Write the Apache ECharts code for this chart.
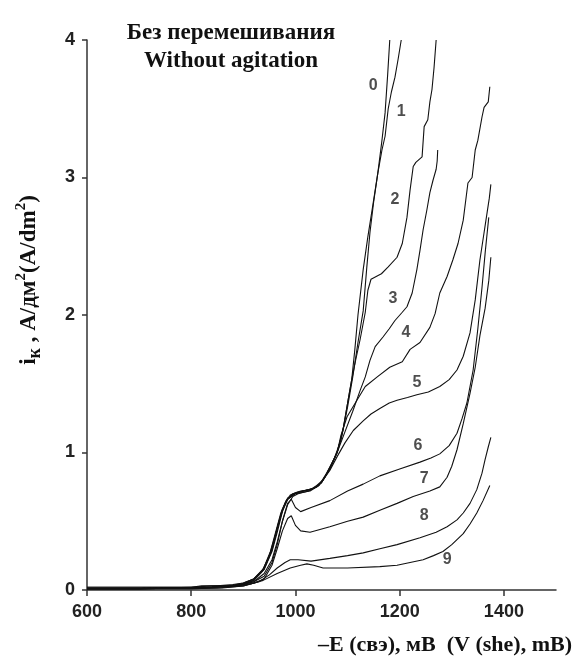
<!DOCTYPE html>
<html><head><meta charset="utf-8">
<script src="https://cdn.jsdelivr.net/npm/echarts@6/dist/echarts.min.js"></script>
<style>html,body{margin:0;padding:0;background:#fff}#c{width:575px;height:664px}</style>
</head><body><div id="c"></div>
<script>
// Potential E (mV, vs SHE, negative sign) and cathodic current density (A/dm2)
const xTicks = [600, 800, 1000, 1200, 1400];
const yTicks = [0, 1, 2, 3, 4];
const curveNames = ['0','1','2','3','4','5','6','7','8','9'];

const curve0 = [[600,0.02],[700,0.02],[800,0.02],[820,0.03],[850,0.03],[880,0.04],[900,0.05],[920,0.08],[935,0.13],[950,0.25],[960,0.38],[970,0.52],[980,0.63],[990,0.69],[1003,0.71],[1028,0.73],[1041,0.75],[1053,0.8],[1066,0.89],[1080,1.0],[1091,1.16],[1101,1.38],[1108,1.53],[1114,1.75],[1120,2.0],[1130,2.33],[1139,2.57],[1149,2.81],[1158,3.03],[1166,3.27],[1172,3.47],[1177,3.75],[1181,4.0]];
const curve1 = [[600,0.01],[700,0.01],[800,0.015],[830,0.02],[870,0.03],[900,0.04],[920,0.07],[940,0.15],[955,0.28],[965,0.42],[975,0.57],[985,0.66],[1000,0.70],[1028,0.72],[1045,0.76],[1060,0.85],[1075,0.96],[1088,1.1],[1100,1.33],[1110,1.55],[1120,1.8],[1130,2.03],[1137,2.35],[1143,2.6],[1150,2.82],[1158,3.03],[1166,3.2],[1172,3.3],[1178,3.5],[1184,3.62],[1191,3.73],[1197,3.86],[1203,4.0]];
const curve2 = [[600,0.01],[700,0.01],[800,0.02],[840,0.02],[880,0.03],[900,0.045],[920,0.08],[938,0.15],[952,0.28],[962,0.42],[972,0.56],[982,0.65],[995,0.7],[1010,0.72],[1030,0.73],[1045,0.76],[1058,0.83],[1070,0.92],[1082,1.02],[1092,1.18],[1101,1.38],[1108,1.53],[1116,1.68],[1124,1.82],[1134,2.02],[1139,2.18],[1145,2.26],[1155,2.28],[1165,2.3],[1178,2.35],[1195,2.42],[1205,2.52],[1214,2.71],[1220,2.91],[1226,3.08],[1231,3.11],[1243,3.15],[1247,3.37],[1254,3.42],[1258,3.55],[1262,3.64],[1266,3.8],[1270,4.0]];
const curve3 = [[600,0.01],[700,0.01],[800,0.015],[840,0.02],[880,0.03],[900,0.04],[920,0.07],[940,0.15],[955,0.29],[965,0.44],[975,0.58],[985,0.66],[998,0.7],[1015,0.72],[1035,0.74],[1050,0.78],[1066,0.88],[1080,1.0],[1095,1.15],[1110,1.3],[1124,1.45],[1134,1.55],[1143,1.67],[1153,1.77],[1168,1.84],[1180,1.9],[1191,1.96],[1205,2.02],[1214,2.06],[1224,2.16],[1233,2.33],[1239,2.47],[1245,2.62],[1252,2.76],[1258,2.89],[1264,2.98],[1270,3.06],[1272,3.12],[1273,3.2]];
const curve4 = [[600,0.02],[700,0.02],[800,0.02],[840,0.03],[880,0.035],[900,0.05],[920,0.08],[940,0.16],[955,0.3],[965,0.45],[975,0.59],[985,0.67],[998,0.7],[1015,0.72],[1035,0.74],[1050,0.78],[1066,0.88],[1080,1.0],[1087,1.12],[1099,1.26],[1118,1.38],[1134,1.48],[1157,1.55],[1181,1.62],[1205,1.66],[1220,1.75],[1239,1.8],[1258,1.91],[1268,2.01],[1277,2.16],[1291,2.28],[1302,2.4],[1312,2.52],[1322,2.69],[1331,2.96],[1339,3.0],[1345,3.2],[1350,3.27],[1358,3.44],[1362,3.51],[1370,3.55],[1373,3.66]];
const curve5 = [[600,0.01],[700,0.01],[800,0.015],[840,0.02],[880,0.03],[900,0.04],[920,0.06],[940,0.12],[955,0.22],[965,0.35],[975,0.5],[985,0.62],[995,0.68],[1005,0.7],[1025,0.72],[1041,0.76],[1053,0.8],[1066,0.87],[1080,0.97],[1095,1.07],[1111,1.16],[1130,1.23],[1145,1.28],[1162,1.32],[1180,1.36],[1195,1.38],[1215,1.4],[1233,1.42],[1255,1.44],[1277,1.48],[1295,1.53],[1310,1.6],[1322,1.7],[1335,1.87],[1345,2.11],[1354,2.4],[1362,2.6],[1368,2.75],[1372,2.85],[1375,2.95]];
const curve6 = [[600,0.01],[700,0.01],[800,0.015],[840,0.02],[880,0.03],[900,0.04],[920,0.06],[940,0.1],[955,0.2],[965,0.33],[975,0.5],[985,0.63],[992,0.66],[1000,0.6],[1010,0.57],[1030,0.6],[1066,0.65],[1100,0.72],[1130,0.77],[1162,0.83],[1200,0.88],[1239,0.93],[1260,0.96],[1277,0.99],[1295,1.05],[1310,1.14],[1320,1.25],[1329,1.36],[1341,1.6],[1350,1.9],[1358,2.2],[1364,2.45],[1368,2.6],[1371,2.71]];
const curve7 = [[600,0.01],[700,0.01],[800,0.015],[840,0.02],[880,0.03],[900,0.035],[920,0.05],[940,0.08],[955,0.18],[965,0.3],[975,0.43],[985,0.52],[992,0.54],[1000,0.47],[1010,0.43],[1028,0.42],[1066,0.46],[1100,0.5],[1130,0.53],[1162,0.58],[1195,0.63],[1226,0.68],[1258,0.72],[1277,0.75],[1291,0.82],[1300,0.9],[1310,1.02],[1322,1.21],[1335,1.43],[1345,1.62],[1354,1.85],[1364,2.05],[1371,2.25],[1375,2.42]];
const curve8 = [[600,0.01],[800,0.01],[850,0.015],[900,0.03],[930,0.06],[950,0.11],[965,0.16],[980,0.2],[990,0.22],[1005,0.22],[1030,0.21],[1066,0.23],[1100,0.25],[1130,0.27],[1162,0.3],[1195,0.33],[1239,0.38],[1270,0.42],[1291,0.46],[1310,0.51],[1322,0.56],[1335,0.63],[1348,0.73],[1358,0.85],[1364,0.95],[1370,1.04],[1375,1.11]];
const curve9 = [[600,0.01],[800,0.01],[860,0.015],[900,0.03],[938,0.07],[965,0.12],[990,0.16],[1010,0.18],[1022,0.19],[1035,0.18],[1053,0.16],[1100,0.16],[1162,0.17],[1195,0.18],[1220,0.2],[1245,0.22],[1265,0.25],[1283,0.28],[1300,0.33],[1322,0.41],[1335,0.48],[1348,0.56],[1360,0.65],[1373,0.76]];
const curves = [curve0, curve1, curve2, curve3, curve4, curve5, curve6, curve7, curve8, curve9];

// curve number annotations, anchored in data coordinates
const labelE = [1149, 1203, 1191, 1187, 1212, 1233, 1235, 1247, 1247, 1291];
const labelI = [3.67, 3.48, 2.84, 2.12, 1.87, 1.51, 1.05, 0.81, 0.54, 0.22];

const titleLines = ['Без перемешивания', 'Without agitation'];
const xName = '–E (свэ), мВ  (V (she), mB)';
const yNameRich = '{b|i}{s|к}{b| , А/дм}{p|2}{b|(А/dm}{p|2}{b|)}';

const chart = echarts.init(document.getElementById('c'), null, {renderer: 'canvas'});
const serif = '"Liberation Serif", "Times New Roman", serif';
const sans = '"Liberation Sans", Arial, sans-serif';

const series = curves.map((d, k) => ({
  name: curveNames[k], type: 'line', data: d, showSymbol: false, smooth: false,
  lineStyle: {color: '#111', width: 1.1}, silent: true, animation: false
}));
series.push({
  type: 'scatter', symbolSize: 0, silent: true, animation: false,
  data: labelE.map((e, k) => ({value: [e, labelI[k]], name: curveNames[k]})),
  label: {show: true, position: 'inside', formatter: p => p.name,
    fontFamily: sans, fontWeight: 'bold', fontSize: 16, color: '#222'}
});

chart.setOption({
  animation: false,
  backgroundColor: '#fff',
  title: {
    text: titleLines.join('\n'), left: 226, top: 14, textAlign: 'center',
    textStyle: {fontFamily: serif, fontWeight: 'bold', fontSize: 23, lineHeight: 28, color: '#111'}
  },
  grid: {left: 87, right: 19, top: 40, bottom: 74, containLabel: false},
  xAxis: {
    type: 'value', min: 600, max: 1500, interval: 200,
    axisLine: {lineStyle: {color: '#333', width: 1.5}},
    axisTick: {show: true, length: 6, lineStyle: {color: '#333', width: 1.5}, customValues: xTicks},
    axisLabel: {customValues: xTicks, formatter: v => String(v), margin: 13,
      fontFamily: sans, fontWeight: 'bold', fontSize: 18, color: '#222'},
    splitLine: {show: false}
  },
  yAxis: {
    type: 'value', min: 0, max: 4, interval: 1,
    axisLine: {show: true, lineStyle: {color: '#333', width: 1.5}},
    axisTick: {show: true, length: 5, lineStyle: {color: '#333', width: 1.5}, customValues: yTicks},
    axisLabel: {customValues: yTicks, formatter: v => String(v), margin: 12,
      fontFamily: sans, fontWeight: 'bold', fontSize: 18, color: '#222'},
    splitLine: {show: false}
  },
  graphic: [{
    type: 'text', right: 3, top: 634,
    style: {text: xName, font: 'bold 22px ' + serif, fill: '#111', textAlign: 'right'}
  }, {
    type: 'text', x: 29, y: 280, rotation: Math.PI / 2,
    style: {
      text: yNameRich, align: 'center', verticalAlign: 'middle',
      rich: {
        b: {fontFamily: serif, fontWeight: 'bold', fontSize: 23, fill: '#111', lineHeight: 30, verticalAlign: 'middle'},
        s: {fontFamily: serif, fontWeight: 'bold', fontSize: 18, fill: '#111', lineHeight: 30, verticalAlign: 'bottom'},
        p: {fontFamily: serif, fontWeight: 'bold', fontSize: 15, fill: '#111', lineHeight: 30, verticalAlign: 'top'}
      }
    }
  }],
  series: series
});
</script></body></html>
